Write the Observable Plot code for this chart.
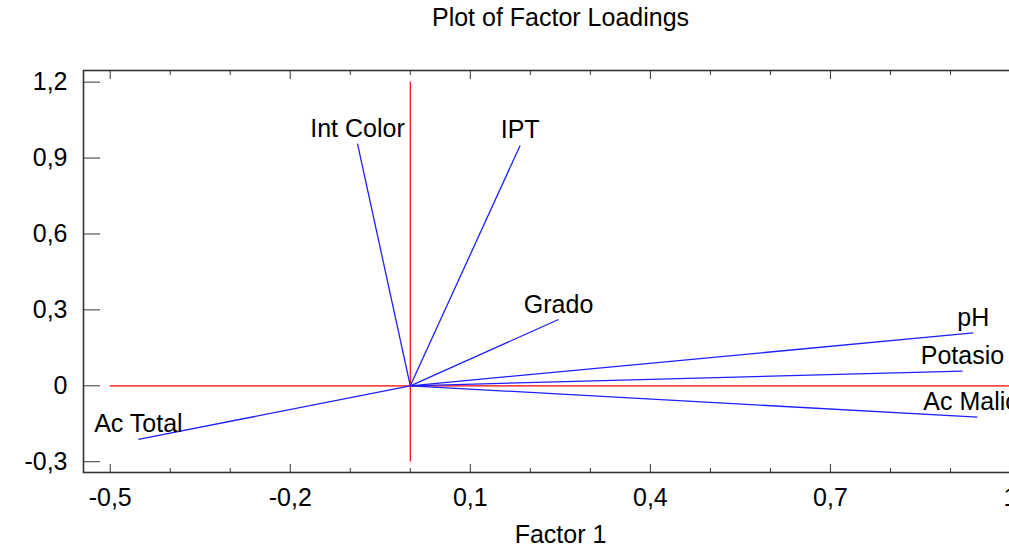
<!DOCTYPE html>
<html>
<head>
<meta charset="utf-8">
<script src="https://cdn.jsdelivr.net/npm/d3@7"></script>
<script src="https://cdn.jsdelivr.net/npm/@observablehq/plot@0.6"></script>
<style>
  html, body { margin: 0; padding: 0; background: #fff; overflow: hidden; }
  #chart { width: 1060px; }
  #chart svg { max-width: none !important; }
</style>
</head>
<body>
<div id="chart"></div>
<script>
// Factor loadings of each variable on Factor 1 (x) and Factor 2 (y)
const variables = ["Int Color", "IPT", "Grado", "pH", "Potasio", "Ac Malico", "Ac Total"];
const factor1 = [-0.088, 0.183, 0.247, 0.938, 0.920, 0.945, -0.453];
const factor2 = [0.957, 0.950, 0.262, 0.209, 0.058, -0.124, -0.212];

// Axis ticks
const xTicks = [-0.5, -0.2, 0.1, 0.4, 0.7, 1.0];
const xMinorTicks = [-0.4, -0.3, -0.1, 0, 0.2, 0.3, 0.5, 0.6, 0.8, 0.9];
const yTicks = [-0.3, 0, 0.3, 0.6, 0.9, 1.2];

const title = "Plot of Factor Loadings";
const xLabel = "Factor 1";

const loadings = variables.map((name, i) => ({name, f1: factor1[i], f2: factor2[i]}));

// Decimal comma, no trailing zero ("0", "1", "-0,5")
const fmt = d => d === 0 ? "0" : String(+d.toFixed(1)).replace(".", ",");
const noText = () => "";

const frameColor = "#333";
const fontSize = 25;

const chart = Plot.plot({
  width: 1060,
  height: 550,
  marginLeft: 83,
  marginRight: 23,
  marginTop: 70,
  marginBottom: 78,
  x: {domain: [-0.5445, 1.045]},
  y: {domain: [-0.3426, 1.246]},
  style: {
    fontFamily: "'Liberation Sans', Arial, sans-serif",
    fontSize: fontSize + "px",
    background: "#fff",
    color: "#000",
    overflow: "visible",
    maxWidth: "none"
  },
  marks: [
    // red reference axes through the origin
    Plot.ruleY([0], {x1: xTicks[0], x2: xTicks[xTicks.length - 1], stroke: "#ff0000", strokeWidth: 1.2}),
    Plot.ruleX([0], {y1: yTicks[0], y2: yTicks[yTicks.length - 1], stroke: "#ff0000", strokeWidth: 1.2}),

    // loading vectors
    Plot.link(loadings, {x1: 0, y1: 0, x2: "f1", y2: "f2", stroke: "#1f1fff", strokeWidth: 1.3}),
    Plot.text(loadings, {x: "f1", y: "f2", text: "name", dy: -15, fill: "#000"}),

    // y axis: labels plus inward ticks
    Plot.axisY(yTicks, {tickSize: 0, tickPadding: 16, tickFormat: fmt, label: null}),
    Plot.axisY(yTicks, {tickSize: -17, tickFormat: noText, label: null, stroke: frameColor}),

    // x axis: labels, inward major and minor ticks on bottom and top
    Plot.axisX(xTicks, {anchor: "bottom", tickSize: 0, tickPadding: 16, tickFormat: fmt, label: null}),
    Plot.axisX(xTicks, {anchor: "bottom", tickSize: -8, tickFormat: noText, label: null, stroke: frameColor}),
    Plot.axisX(xTicks, {anchor: "top", tickSize: -8, tickFormat: noText, label: null, stroke: frameColor}),
    Plot.axisX(xMinorTicks, {anchor: "bottom", tickSize: -4, tickFormat: noText, label: null, stroke: frameColor}),
    Plot.axisX(xMinorTicks, {anchor: "top", tickSize: -4, tickFormat: noText, label: null, stroke: frameColor}),

    Plot.frame({stroke: frameColor, strokeWidth: 1.6}),

    // title and axis label
    Plot.text([title], {frameAnchor: "top", dy: -52.5, lineAnchor: "middle", fill: "#000"}),
    Plot.text([xLabel], {frameAnchor: "bottom", dy: 62.5, lineAnchor: "middle", fill: "#000"})
  ]
});

document.getElementById("chart").appendChild(chart);
</script>
</body>
</html>
